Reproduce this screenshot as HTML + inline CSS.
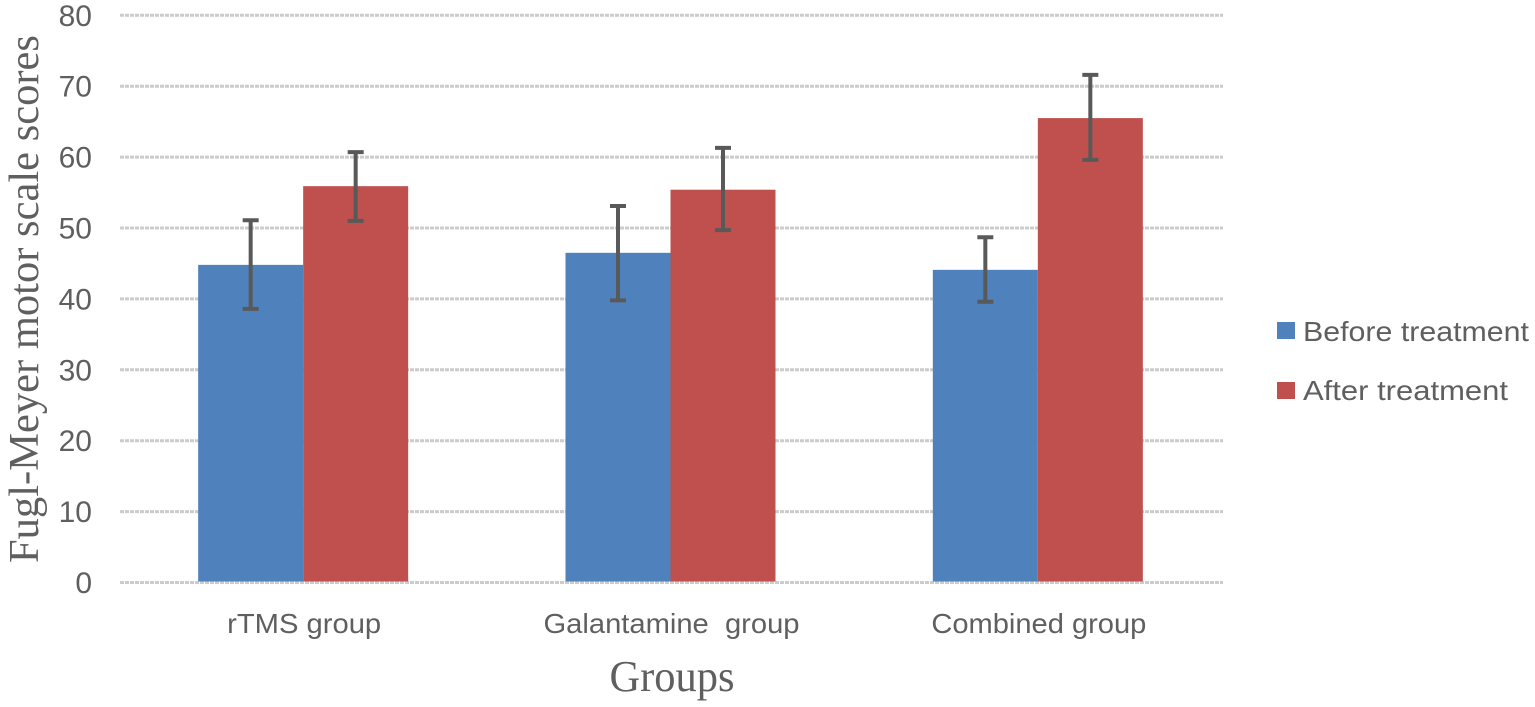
<!DOCTYPE html>
<html lang="en">
<head>
<meta charset="utf-8">
<title>Fugl-Meyer motor scale scores by group</title>
<style>
html,body{margin:0;padding:0;background:#fff;width:1535px;height:707px;overflow:hidden}
svg{display:block}
</style>
</head>
<body>
<svg id="chart" width="1535" height="707" viewBox="0 0 1535 707" xmlns="http://www.w3.org/2000/svg">
<text transform="translate(38,299) rotate(-90)" text-anchor="middle" font-family="'Liberation Serif',serif" font-size="42" fill="#5f5f5f" textLength="528" lengthAdjust="spacingAndGlyphs">Fugl-Meyer motor scale scores</text>
<text x="672" y="691" text-anchor="middle" font-family="'Liberation Serif',serif" font-size="44" fill="#5f5f5f" textLength="125" lengthAdjust="spacingAndGlyphs">Groups</text>
<rect x="1277" y="322" width="18" height="17" fill="#4f81bd"/>
<text x="1303" y="341" font-family="'Liberation Sans',sans-serif" font-size="28" fill="#5f5f5f" textLength="226" lengthAdjust="spacingAndGlyphs">Before treatment</text>
<rect x="1277" y="382" width="18" height="17" fill="#c0504d"/>
<text x="1303" y="400" font-family="'Liberation Sans',sans-serif" font-size="28" fill="#5f5f5f" textLength="205" lengthAdjust="spacingAndGlyphs">After treatment</text>
</svg>
<script>
const categories = ['rTMS group', 'Galantamine  group', 'Combined group'];
const categoryWidths = [154, 256, 215];
const yTicks = [0, 10, 20, 30, 40, 50, 60, 70, 80];
const beforeValues = [44.8, 46.5, 44.1];
const afterValues = [55.9, 55.4, 65.5];
const beforeLow = [38.6, 39.8, 39.6];
const beforeHigh = [51.1, 53.1, 48.7];
const afterLow = [51.0, 49.7, 59.6];
const afterHigh = [60.7, 61.3, 71.6];

const svg = document.getElementById('chart');
const NS = 'http://www.w3.org/2000/svg';
const plotLeft = 119.5, plotWidth = 1102, plotRight = 1223, y0 = 582.5, unit = 7.09, barW = 105;
const yScale = v => y0 - v * unit;
const xCenter = i => plotLeft + plotWidth / categories.length * (i + 0.5);
function make(tag, attrs) {
  const el = document.createElementNS(NS, tag);
  for (const k in attrs) el.setAttribute(k, attrs[k]);
  return el;
}
yTicks.forEach(t => {
  const g = make('line', {x1: 120, x2: plotRight, y1: yScale(t), y2: yScale(t), stroke: '#cccccc', 'stroke-width': 3, 'stroke-dasharray': '4 1'});
  
  
  svg.appendChild(g);
  const label = make('text', {x: 92, y: yScale(t) + 10.5, 'text-anchor': 'end', 'font-family': "'Liberation Sans',sans-serif", 'font-size': 30, fill: '#5f5f5f'});
  label.textContent = t;
  
  
  svg.appendChild(label);
});
function drawBar(i, value, color, side, name) {
  const left = side === 0 ? xCenter(i) - barW : xCenter(i);
  const top = yScale(value);
  const r = make('rect', {x: left, y: top, width: barW, height: y0 - top - 1, fill: color});
  
  
  svg.appendChild(r);
}
function drawError(i, low, high, side, name) {
  const x = xCenter(i) + (side === 0 ? -barW / 2 : barW / 2);
  const g = make('path', {
    d: 'M' + x + ' ' + yScale(low) + 'V' + yScale(high) +
       'M' + (x - 8) + ' ' + yScale(low) + 'H' + (x + 8) +
       'M' + (x - 8) + ' ' + yScale(high) + 'H' + (x + 8),
    stroke: '#595959', 'stroke-width': 4, fill: 'none'
  });
  
  
  svg.appendChild(g);
}
categories.forEach((c, i) => {
  drawBar(i, beforeValues[i], '#4f81bd', 0, 'before');
  drawBar(i, afterValues[i], '#c0504d', 1, 'after');
});
categories.forEach((c, i) => {
  drawError(i, beforeLow[i], beforeHigh[i], 0, 'before');
  drawError(i, afterLow[i], afterHigh[i], 1, 'after');
  const label = make('text', {x: xCenter(i) + 1, y: 633, 'text-anchor': 'middle', 'font-family': "'Liberation Sans',sans-serif", 'font-size': 28, fill: '#5f5f5f', textLength: categoryWidths[i], lengthAdjust: 'spacingAndGlyphs'});
  label.style.whiteSpace = 'pre';
  label.textContent = c;
  
  
  svg.appendChild(label);
});
</script>
</body>
</html>
